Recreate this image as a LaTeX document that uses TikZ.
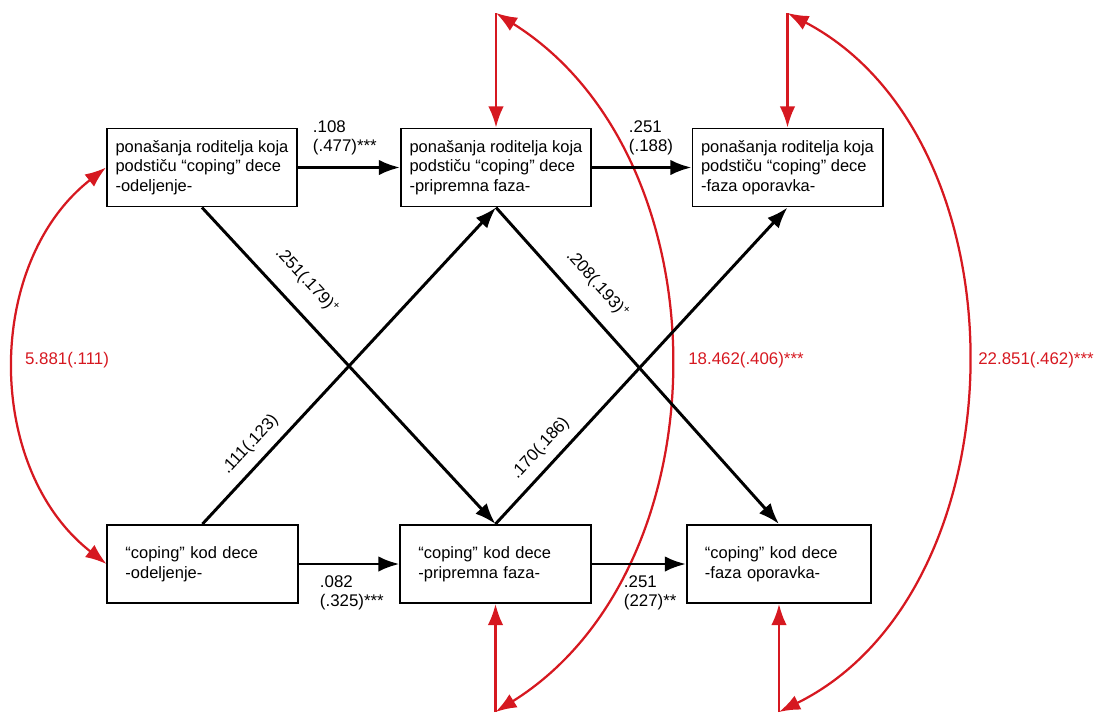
\documentclass[tikz,border=0pt]{standalone}
\usepackage{fontspec}
\setmainfont{Liberation Sans}
\usetikzlibrary{arrows.meta}
\definecolor{covred}{RGB}{214,24,32}
\begin{document}
\begin{tikzpicture}[x=0.025cm, y=-0.025cm, >={Latex[length=15pt,width=11pt]}]
        \tikzset{
            block/.style={draw, line width=1.4pt, minimum width=4.75cm, minimum height=1.95cm, align=left, font=\fontsize{11.7}{14}\selectfont},
            arrow/.style={->, line width=2.1pt},
            cov/.style={covred, line width=1.6pt},
            coef/.style={font=\fontsize{12}{14}\selectfont, align=left},
            covlabel/.style={coef, text=covred}
        }
        \useasboundingbox (0,0) rectangle (1104,717);

        \node[block] (parOdj) at (202,167.5) {ponašanja roditelja koja\\podstiču “coping” dece\\-odeljenje-};
        \node[block] (parPrip) at (496,167.5) {ponašanja roditelja koja\\podstiču “coping” dece\\-pripremna faza-};
        \node[block] (parOpor) at (787.5,167.5) {ponašanja roditelja koja\\podstiču “coping” dece\\-faza oporavka-};
        \node[block, inner xsep=0.45cm, text width=3.85cm] (copOdj) at (202.5,564) {“coping” kod dece\\-odeljenje-};
        \node[block, inner xsep=0.45cm, text width=3.85cm] (copPrip) at (495.5,564) {“coping” kod dece\\-pripremna faza-};
        \node[block, minimum width=4.6cm, inner xsep=0.45cm, text width=3.7cm] (copOpor) at (779,564) {“coping” kod dece\\-faza oporavka-};

        % covariances
        \coordinate (topPrip) at (496,13);
        \coordinate (botPrip) at (495.5,712);
        \coordinate (topOpor) at (787.5,13);
        \coordinate (botOpor) at (779,712);

        \draw[cov, <->] (parOdj.west) to[bend right=52] (copOdj.west);
        \draw[cov, ->] (topPrip) -- (parPrip.north);
        \draw[cov, ->] (botPrip) -- (copPrip.south);
        \draw[cov, <->] (topPrip) to[bend left=58] (botPrip);
        \draw[cov, ->] (topOpor) -- (parOpor.north);
        \draw[cov, ->] (botOpor) -- (copOpor.south);
        \draw[cov, <->] (topOpor) to[bend left=63] (botOpor);

        \node[covlabel] (covOdj) at (67,360) {5.881(.111)};
        \node[covlabel] (covPrip) at (746,360) {18.462(.406)***};
        \node[covlabel] (covOpor) at (1036,360) {22.851(.462)***};

        % paths
        \draw[arrow] (parOdj) -- (parPrip);
        \draw[arrow] (parPrip) -- (parOpor);
        \draw[arrow] (copOdj) -- (copPrip);
        \draw[arrow] (copPrip.east) -- (copOpor.west |- copPrip.east);
        \draw[arrow] (parOdj.south) -- (copPrip.north) node[coef, sloped, above=9pt, pos=0.29] (d1) {.251(.179)\textsuperscript{+}};
        \draw[arrow] (copOdj.north) -- (parPrip.south) node[coef, sloped, above=3.5pt, pos=0.21] (d2) {.111(.123)};
        \draw[arrow] (parPrip.south) -- (copOpor.north) node[coef, sloped, above=7pt, pos=0.295] (d3) {.208(.193)\textsuperscript{+}};
        \draw[arrow] (copPrip.north) -- (parOpor.south) node[coef, sloped, above=3pt, pos=0.2] (d4) {.170(.186)};

        \node[coef, anchor=west] (h1) at (308,138) {.108\\(.477)***};
        \node[coef, anchor=west] (h2) at (624,138) {.251\\(.188)};
        \node[coef, anchor=west] (h3) at (315,593) {.082\\(.325)***};
        \node[coef, anchor=west] (h4) at (619,593) {.251\\(227)**};
    \end{tikzpicture}
\end{document}
